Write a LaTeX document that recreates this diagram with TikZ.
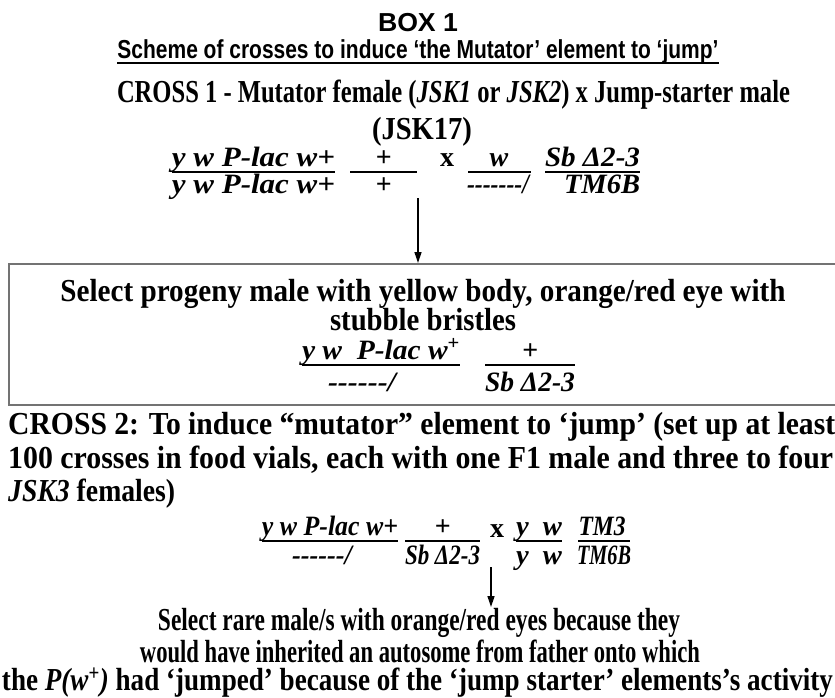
\documentclass[tikz,border=0pt]{standalone}
\usepackage{fontspec}
\setmainfont{Liberation Serif}
\newfontfamily\arialf{Liberation Sans}
\usepackage{graphicx}
\usetikzlibrary{arrows.meta}
\newcommand{\R}[2]{\resizebox{#1pt}{\height}{#2}}
\newcommand{\dsh}[1]{\foreach \i in {1,...,#1}{\char"2D}}
\begin{document}
\begin{tikzpicture}[x=1pt,y=-1pt,
 txt/.style={inner sep=0pt, anchor=base, font=\fontsize{32}{33}\selectfont\bfseries},
 ltxt/.style={txt, anchor=base west},
 gen/.style={inner sep=0pt, anchor=base, font=\fontsize{28}{28}\selectfont\bfseries\itshape},
 genb/.style={gen, font=\fontsize{28}{28}\selectfont\bfseries\itshape},
 cross/.style={inner sep=0pt, anchor=base, font=\fontsize{28}{28}\selectfont\bfseries},
 hd/.style={inner sep=0pt, anchor=base, font=\fontsize{26}{26}\selectfont\arialf\bfseries},
 fbar/.style={line width=2pt},
 arr/.style={line width=1.3pt, -{Triangle[length=11pt,width=7pt]}},
 frame/.style={draw=black!55, line width=2pt, inner sep=0pt}]
\useasboundingbox (0,0) rectangle (835,697);

% heading
\node[hd] (box1) at (418,31) {\R{80}{BOX 1}};
\node[hd] (title) at (418,58) {\R{601}{Scheme of crosses to induce ‘the Mutator’ element to ‘jump’}};
\draw[line width=2pt] ([yshift=-5pt]title.base west) -- ([yshift=-5pt]title.base east);

% cross 1
\node[txt] (c1a) at (453.5,102) {\R{673}{CROSS 1 - Mutator female (\textit{JSK1} or \textit{JSK2}) x Jump-starter male}};
\node[txt] (c1b) at (422,139) {\R{100}{(JSK17)}};

% genotype 1
\node[gen] (g1n) at (253.5,166) {\R{163}{y w P-lac w+}};
\node[gen] (g1d) at (253.5,193) {\R{163}{y w P-lac w+}};
\draw[fbar] (172,172) -- (335,172);
\node[gen] (g2n) at (383.5,166) {+};
\node[gen] (g2d) at (383.5,193) {+};
\draw[fbar] (350,172) -- (417,172);
\node[cross] (x1) at (447,166) {x};
\node[gen] (g3n) at (499,166) {w};
\node[gen] (g3d) at (498,193) {\R{62}{\dsh{7}/}};
\draw[fbar] (468,172) -- (531,172);
\node[gen] (g4n) at (592.5,166) {\R{95}{Sb \char"0394 2-3}};
\node[gen] (g4d) at (602,193) {\R{76}{TM6B}};
\draw[fbar] (545,172) -- (640,172);

% arrow 1 and box
\coordinate (a1s) at (418,198);
\node[frame, draw, anchor=north west, minimum width=850pt, minimum height=141pt] (sel) at (8,263) {};
\draw[arr] (a1s) -- (a1s |- sel.north);

\node[txt] (s1) at (423,301) {\R{725}{Select progeny male with yellow body, orange/red eye with}};
\node[txt] (s2) at (423,330) {\R{186}{stubble bristles}};
\node[genb] (g5n) at (381,359) {\R{158}{y w~ P-lac w\textsuperscript{\upshape +}}};
\node[genb] (g5d) at (362,391) {\R{68}{\dsh{6}/}};
\draw[fbar] (302,365) -- (460,365);
\node[genb] (g6n) at (530,359) {+};
\node[genb] (g6d) at (530,391) {\R{90}{Sb \char"0394 2-3}};
\draw[fbar] (485,365) -- (575,365);

% cross 2
\node[ltxt] (c2a) at (8,434) {\R{827}{CROSS 2: To induce “mutator” element to ‘jump’ (set up at least}};
\node[ltxt] (c2b) at (8,468) {\R{825}{100 crosses in food vials, each with one F1 male and three to four}};
\node[ltxt] (c2c) at (8,501) {\R{167}{\textit{JSK3} females)}};

% genotype 2
\node[genb] (g7n) at (330,535) {\R{136}{y w P-lac w+}};
\node[genb] (g7d) at (322,564) {\R{60}{\dsh{6}/}};
\draw[fbar] (262,541) -- (398,541);
\node[genb] (g8n) at (442.5,535) {+};
\node[genb] (g8d) at (442.5,564) {\R{75}{Sb \char"0394 2-3}};
\draw[fbar] (405,541) -- (480,541);
\node[cross] (x2) at (497,537) {x};
\node[genb] (g9n) at (539,535) {\R{46}{y~ w}};
\node[genb] (g9d) at (539,564) {\R{46}{y~ w}};
\draw[fbar] (516,541) -- (562,541);
\node[genb] (g10n) at (602,535) {\R{47}{TM3}};
\node[genb] (g10d) at (604,564) {\R{54}{TM6B}};
\draw[fbar] (578,541) -- (630,541);

% arrow 2 and result
\coordinate (a2s) at (491,567);
\node[txt] (r1) at (419,630) {\R{522}{Select rare male/s with orange/red eyes because they}};
\node[txt] (r2) at (420,662) {\R{560}{would have inherited an autosome from father onto which}};
\node[txt] (r3) at (417.5,690) {\R{831}{the \textit{P(w}\textsuperscript{+}\textit{)} had ‘jumped’ because of the ‘jump starter’ elements’s activity}};
\draw[arr] (a2s) -- ([yshift=23pt]a2s |- r1.base);
\end{tikzpicture}
\end{document}
